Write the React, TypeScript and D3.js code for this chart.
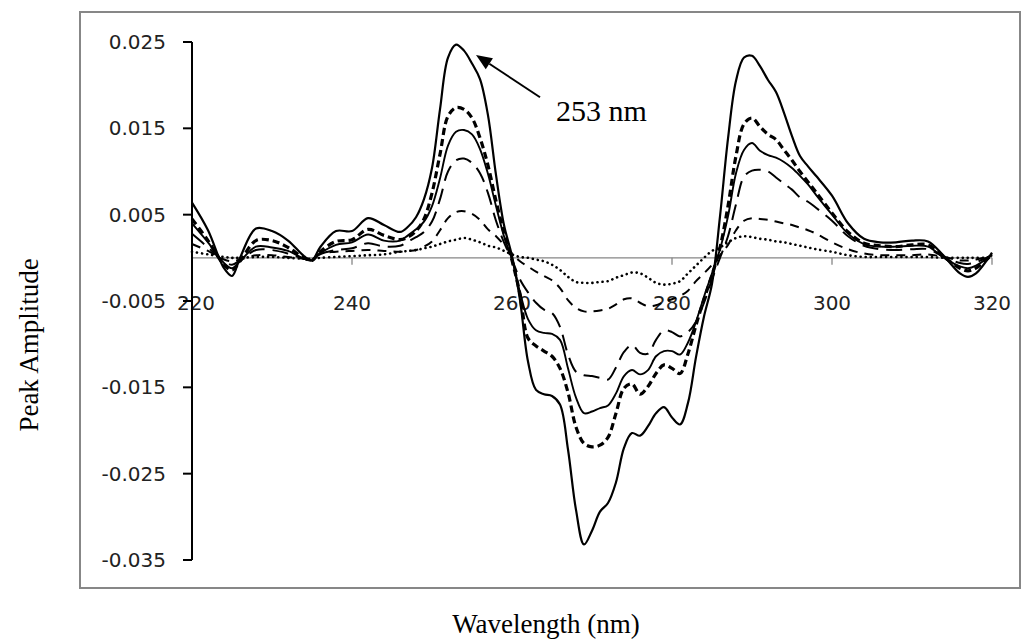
import React from 'react';
import * as d3 from 'd3';

// wavelength grid (nm)
const wavelengths = [
  220, 222, 224, 225, 226, 228, 230, 232, 234, 235, 236, 238, 240, 242, 244,
  246, 247, 248, 249, 250, 251, 252, 253, 254, 255, 256, 257, 258, 259, 260,
  261, 262, 263, 264, 265, 266, 267, 268, 269, 270, 271, 272, 273, 274, 275,
  276, 277, 278, 279, 280, 281, 282, 283, 284, 285, 286, 287, 288, 289, 290,
  291, 292, 293, 294, 295, 296, 297, 298, 300, 302, 304, 306, 308, 310, 312,
  314, 316, 317, 318, 320,
];

// outer solid curve
const solidHigh = [
  0.0064, 0.0032, -0.0012, -0.0021, 0.0000, 0.0034, 0.0031, 0.0020, 0.0002, -0.0003, 0.0012, 0.0031, 0.0031, 0.0046, 0.0038,
  0.0030, 0.0036, 0.0047, 0.0068, 0.0104, 0.0172, 0.0232, 0.0247, 0.0240, 0.0225, 0.0207, 0.0165, 0.0096, 0.0038, 0.0002,
  -0.0049, -0.0120, -0.0153, -0.0158, -0.0160, -0.0170, -0.0222, -0.0292, -0.0332, -0.0316, -0.0294, -0.0284, -0.0260, -0.0220, -0.0203,
  -0.0206, -0.0195, -0.0180, -0.0173, -0.0185, -0.0193, -0.0168, -0.0115, -0.0068, -0.0030, 0.0048, 0.0138, 0.0205, 0.0232, 0.0234,
  0.0222, 0.0206, 0.0192, 0.0168, 0.0141, 0.0118, 0.0106, 0.0095, 0.0072, 0.0040, 0.0022, 0.0018, 0.0018, 0.0020, 0.0019,
  0.0002, -0.0018, -0.0022, -0.0018, 0.0006,
];

// heavy short dashes
const dashBold = [
  0.0045, 0.0020, -0.0008, -0.0014, -0.0004, 0.0020, 0.0020, 0.0012, 0.0000, -0.0003, 0.0007, 0.0019, 0.0021, 0.0033, 0.0026,
  0.0021, 0.0024, 0.0031, 0.0045, 0.0075, 0.0120, 0.0164, 0.0174, 0.0172, 0.0162, 0.0139, 0.0107, 0.0066, 0.0029, -0.0003,
  -0.0042, -0.0093, -0.0102, -0.0108, -0.0114, -0.0128, -0.0156, -0.0196, -0.0215, -0.0219, -0.0217, -0.0208, -0.0180, -0.0151, -0.0146,
  -0.0158, -0.0149, -0.0134, -0.0124, -0.0128, -0.0134, -0.0111, -0.0078, -0.0048, -0.0020, 0.0012, 0.0060, 0.0118, 0.0155, 0.0162,
  0.0152, 0.0143, 0.0137, 0.0125, 0.0113, 0.0100, 0.0088, 0.0076, 0.0052, 0.0030, 0.0017, 0.0014, 0.0013, 0.0015, 0.0015,
  0.0001, -0.0012, -0.0015, -0.0012, 0.0004,
];

// inner solid curve
const solidLow = [
  0.0040, 0.0018, -0.0006, -0.0012, -0.0004, 0.0013, 0.0012, 0.0008, -0.0001, -0.0003, 0.0005, 0.0015, 0.0018, 0.0027, 0.0020,
  0.0020, 0.0026, 0.0033, 0.0042, 0.0060, 0.0092, 0.0130, 0.0146, 0.0148, 0.0143, 0.0126, 0.0097, 0.0060, 0.0025, -0.0002,
  -0.0040, -0.0071, -0.0084, -0.0087, -0.0088, -0.0095, -0.0128, -0.0162, -0.0180, -0.0178, -0.0174, -0.0171, -0.0157, -0.0137, -0.0130,
  -0.0135, -0.0130, -0.0114, -0.0108, -0.0108, -0.0112, -0.0098, -0.0074, -0.0045, -0.0018, 0.0010, 0.0048, 0.0098, 0.0125, 0.0133,
  0.0124, 0.0119, 0.0116, 0.0111, 0.0104, 0.0095, 0.0085, 0.0073, 0.0050, 0.0028, 0.0016, 0.0013, 0.0013, 0.0014, 0.0013,
  0.0000, -0.0010, -0.0012, -0.0009, 0.0004,
];

// long dashes
const dashLong = [
  0.0028, 0.0012, -0.0004, -0.0008, -0.0003, 0.0009, 0.0009, 0.0005, -0.0001, -0.0002, 0.0004, 0.0009, 0.0011, 0.0017, 0.0013,
  0.0014, 0.0019, 0.0024, 0.0030, 0.0042, 0.0068, 0.0100, 0.0113, 0.0115, 0.0110, 0.0098, 0.0075, 0.0043, 0.0018, -0.0002,
  -0.0025, -0.0040, -0.0052, -0.0060, -0.0064, -0.0080, -0.0112, -0.0132, -0.0136, -0.0137, -0.0139, -0.0141, -0.0127, -0.0109, -0.0101,
  -0.0110, -0.0111, -0.0095, -0.0084, -0.0086, -0.0091, -0.0086, -0.0074, -0.0052, -0.0025, 0.0000, 0.0025, 0.0062, 0.0094, 0.0101,
  0.0102, 0.0100, 0.0093, 0.0086, 0.0079, 0.0070, 0.0065, 0.0058, 0.0043, 0.0025, 0.0014, 0.0010, 0.0009, 0.0010, 0.0010,
  0.0001, -0.0006, -0.0007, -0.0005, 0.0003,
];

// medium dashes
const dashMid = [
  0.0016, 0.0008, -0.0002, -0.0004, -0.0002, 0.0003, 0.0003, 0.0001, -0.0001, -0.0001, 0.0005, 0.0007, 0.0008, 0.0009, 0.0008,
  0.0007, 0.0008, 0.0009, 0.0013, 0.0019, 0.0032, 0.0046, 0.0053, 0.0054, 0.0051, 0.0044, 0.0033, 0.0025, 0.0015, 0.0005,
  -0.0004, -0.0010, -0.0016, -0.0021, -0.0026, -0.0035, -0.0049, -0.0058, -0.0062, -0.0062, -0.0061, -0.0059, -0.0054, -0.0048, -0.0047,
  -0.0052, -0.0056, -0.0055, -0.0051, -0.0048, -0.0044, -0.0038, -0.0027, -0.0018, -0.0008, 0.0003, 0.0015, 0.0032, 0.0043, 0.0046,
  0.0045, 0.0044, 0.0042, 0.0040, 0.0038, 0.0035, 0.0032, 0.0028, 0.0018, 0.0010, 0.0005, 0.0003, 0.0003, 0.0003, 0.0004,
  0.0001, -0.0003, -0.0003, -0.0002, 0.0002,
];

// dotted
const dotted = [
  0.0007, 0.0004, 0.0001, 0.0000, 0.0000, 0.0001, 0.0001, 0.0000, -0.0001, -0.0001, 0.0000, 0.0001, 0.0002, 0.0003, 0.0004,
  0.0007, 0.0008, 0.0009, 0.0011, 0.0013, 0.0016, 0.0019, 0.0021, 0.0023, 0.0021, 0.0018, 0.0014, 0.0012, 0.0008, 0.0004,
  0.0001, 0.0000, -0.0002, -0.0004, -0.0008, -0.0014, -0.0022, -0.0028, -0.0029, -0.0029, -0.0028, -0.0027, -0.0023, -0.0020, -0.0017,
  -0.0018, -0.0023, -0.0029, -0.0031, -0.0030, -0.0027, -0.0018, -0.0009, 0.0000, 0.0008, 0.0012, 0.0018, 0.0023, 0.0025, 0.0024,
  0.0022, 0.0021, 0.0019, 0.0018, 0.0016, 0.0014, 0.0012, 0.0010, 0.0007, 0.0003, 0.0001, 0.0001, 0.0001, 0.0001, 0.0001,
  0.0000, 0.0000, 0.0000, 0.0000, 0.0000,
];

const yTicks = [0.025, 0.015, 0.005, -0.005, -0.015, -0.025, -0.035];
const xTicks = [220, 240, 260, 280, 300, 320];

const series = [
  { values: solidHigh, width: 2.2, dash: null, cap: 'butt' },
  { values: dashBold, width: 3.2, dash: '7,4', cap: 'butt' },
  { values: solidLow, width: 1.9, dash: null, cap: 'butt' },
  { values: dashLong, width: 2, dash: '16,8', cap: 'butt' },
  { values: dashMid, width: 2, dash: '9,7', cap: 'butt' },
  { values: dotted, width: 2.6, dash: '0.1,5', cap: 'round' },
];

const W = 1027;
const H = 639;

export default function App() {
  const x = d3.scaleLinear().domain([220, 320]).range([192, 992]);
  const y = d3.scaleLinear().domain([-0.035, 0.025]).range([560, 42]);

  const line = d3
    .line<number>()
    .x((d, i) => x(wavelengths[i]))
    .y((d) => y(d))
    .curve(d3.curveCatmullRom.alpha(0.5));

  const tickFont = "'DejaVu Sans', sans-serif";
  const serif = "'Liberation Serif', 'Times New Roman', serif";

  // annotation anchored in data space
  const tip = [x(255.5), y(0.0235)];
  const tail = [x(263.5), y(0.0186)];
  const ang = Math.atan2(tip[1] - tail[1], tip[0] - tail[0]);
  const headLen = 16;
  const headW = 6.5;
  const bx = tip[0] - headLen * Math.cos(ang);
  const by = tip[1] - headLen * Math.sin(ang);
  const head = [
    [tip[0], tip[1]],
    [bx + headW * Math.sin(ang), by - headW * Math.cos(ang)],
    [bx - headW * Math.sin(ang), by + headW * Math.cos(ang)],
  ];

  return (
    <svg
      width={W}
      height={H}
      style={{ position: 'absolute', left: 0, top: 0, background: '#fff' }}
    >
      <rect x={0} y={0} width={W} height={H} fill="#fff" />
      {/* outer frame */}
      <rect x={80} y={12} width={940} height={576} fill="none" stroke="#878787" strokeWidth={2} />

      {/* zero line + x ticks */}
      <line x1={x(220)} x2={x(320)} y1={y(0)} y2={y(0)} stroke="#868686" strokeWidth={1.3} />
      {xTicks.map((t) => (
        <g key={t}>
          <line x1={x(t)} x2={x(t)} y1={y(0)} y2={y(0) + 7} stroke="#868686" strokeWidth={1.3} />
          <text
            x={x(t) + (t === 220 ? 4 : 0)}
            y={y(0) + 52}
            textAnchor="middle"
            fontFamily={tickFont}
            fontSize={20}
            fill="#222"
          >
            {t}
          </text>
        </g>
      ))}

      {/* y axis */}
      <line x1={x(220)} x2={x(220)} y1={y(0.025)} y2={y(-0.035)} stroke="#000" strokeWidth={2} />
      {yTicks.map((t) => (
        <g key={t}>
          <line x1={x(220) - 9} x2={x(220)} y1={y(t)} y2={y(t)} stroke="#000" strokeWidth={2} />
          <text
            x={166}
            y={y(t)}
            dy="0.35em"
            textAnchor="end"
            fontFamily={tickFont}
            fontSize={20}
            fill="#222"
          >
            {t.toFixed(3)}
          </text>
        </g>
      ))}

      {/* curves */}
      {series.map((s, i) => (
        <path
          key={i}
          d={line(s.values) || ''}
          fill="none"
          stroke="#000"
          strokeWidth={s.width}
          strokeDasharray={s.dash || undefined}
          strokeLinecap={s.cap as any}
          strokeLinejoin="round"
        />
      ))}

      {/* annotation */}
      <line x1={tail[0]} y1={tail[1]} x2={bx} y2={by} stroke="#000" strokeWidth={2} />
      <polygon points={head.map((p) => p.join(',')).join(' ')} fill="#000" />
      <text x={x(265.5)} y={y(0.0158)} fontFamily={serif} fontSize={30} fill="#000">
        253 nm
      </text>

      {/* axis titles */}
      <text x={546} y={633} textAnchor="middle" fontFamily={serif} fontSize={27} fill="#000">
        Wavelength (nm)
      </text>
      <text
        transform={`translate(38,${345}) rotate(-90)`}
        textAnchor="middle"
        fontFamily={serif}
        fontSize={27}
        fill="#000"
      >
        Peak Amplitude
      </text>
    </svg>
  );
}
